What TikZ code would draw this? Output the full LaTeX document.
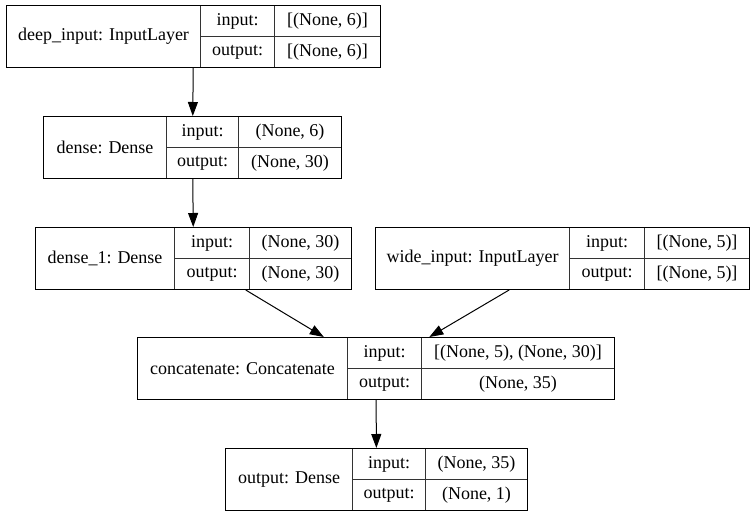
\documentclass[tikz,border=0pt]{standalone}
\usepackage{fontspec}
\setmainfont{Liberation Serif}
\usepackage{tikz}
\usetikzlibrary{arrows.meta}
\tikzset{
  lyr/.style  ={draw=black,line width=1pt,inner sep=0pt,anchor=north west,
                minimum height=62pt},
  cell/.style ={draw=black!80,line width=1pt,inner sep=0pt,anchor=north west,
                minimum height=31pt,font=\fontsize{18}{20}\selectfont},
  namecell/.style={cell,minimum height=62pt},
  arr/.style  ={-{Triangle[length=14pt,width=10pt]},draw=black,line width=1pt},
}
% one record: name, x0, x1, x2, x3, top, label, input shape, output shape
\newcommand{\layer}[9]{%
  \node[namecell,minimum width={#3pt-#2pt}] (#1-name) at (#2,#6) {#7};
  \node[cell,minimum width={#4pt-#3pt}] (#1-in)  at (#3,#6)    {input:};
  \node[cell,minimum width={#4pt-#3pt}] (#1-out) at (#3,#6+31) {output:};
  \node[cell,minimum width={#5pt-#4pt}] (#1-inv)  at (#4,#6)    {#8};
  \node[cell,minimum width={#5pt-#4pt}] (#1-outv) at (#4,#6+31) {#9};
  \node[lyr,minimum width={#5pt-#2pt}] (#1) at (#2,#6) {};
}

\begin{document}
\begin{tikzpicture}[x=1pt, y=-1pt]
\useasboundingbox (0,0) rectangle (755,516);

\layer{deep}{6}{200}{274}{380}{5}{deep\_input: InputLayer}{[(None, 6)]}{[(None, 6)]}
\layer{dense}{43}{166}{238}{341}{116}{dense: Dense}{(None, 6)}{(None, 30)}
\layer{dense1}{35}{174}{249}{351}{227}{dense\_1: Dense}{(None, 30)}{(None, 30)}
\layer{wide}{375}{569}{644}{749}{227}{wide\_input: InputLayer}{[(None, 5)]}{[(None, 5)]}
\layer{concat}{137}{347}{421}{614}{337}{concatenate: Concatenate}{[(None, 5), (None, 30)]}{(None, 35)}
\layer{out}{225}{352}{425}{527}{448}{output: Dense}{(None, 35)}{(None, 1)}

% edges between the records
\draw[arr] (deep) -- (dense);
\draw[arr] (dense) -- (dense1);
\draw[arr] (dense1) -- (concat);
\draw[arr] (wide) -- (concat);
\draw[arr] (concat) -- (out);
\end{tikzpicture}
\end{document}
